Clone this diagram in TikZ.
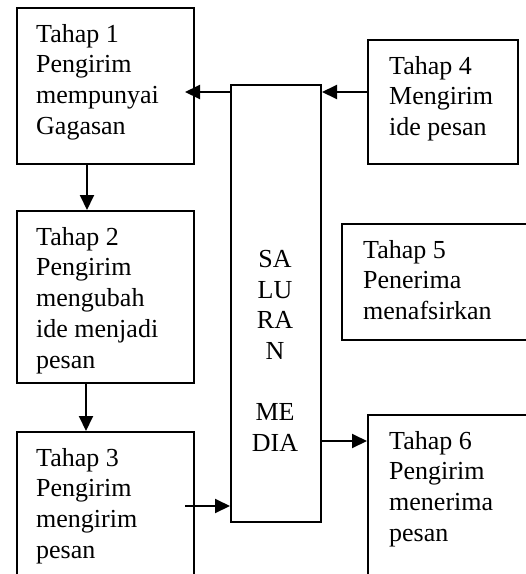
\documentclass[tikz,border=0pt]{standalone}
\usepackage{fontspec}
\setmainfont{Liberation Serif}
\usetikzlibrary{arrows.meta}

\begin{document}
\begin{tikzpicture}[x=1pt,y=-1pt]
\tikzstyle{every node}+=[inner sep=0pt]
\tikzstyle{box}=[draw, black, line width=2pt, anchor=north west]
\tikzstyle{txt}=[anchor=north west, align=left, font=\fontsize{26}{30.7}\selectfont]
\tikzstyle{arr}=[black, line width=2pt, -{Triangle[length=15pt,width=14pt]}]
\useasboundingbox (0,0) rectangle (526,574);
\clip (0,0) rectangle (526,574);
% boxes
\node [box, minimum width=177pt, minimum height=156pt] (b1) at (16,7) {};
\node [box, minimum width=177pt, minimum height=172pt] (b2) at (16,210) {};
\node [box, minimum width=177pt, minimum height=200pt] (b3) at (16,431) {};
\node [box, minimum width=150pt, minimum height=124pt] (b4) at (367,39) {};
\node [box, minimum width=220pt, minimum height=116pt] (b5) at (341,223) {};
\node [box, minimum width=200pt, minimum height=200pt] (b6) at (367,414) {};
\node [box, minimum width=90pt, minimum height=437pt] (media) at (230,84) {};
% texts
\node [txt] (t1) at ([shift={(20,17)}]b1.north west) {Tahap 1\\Pengirim\\mempunyai\\Gagasan};
\node [txt] (t2) at ([shift={(20,17)}]b2.north west) {Tahap 2\\Pengirim\\mengubah\\ide menjadi\\pesan};
\node [txt] (t3) at ([shift={(20,17)}]b3.north west) {Tahap 3\\Pengirim\\mengirim\\pesan};
\node [txt] (t4) at ([shift={(22,17)}]b4.north west) {Tahap 4\\Mengirim\\ide pesan};
\node [txt] (t5) at ([shift={(22,17)}]b5.north west) {Tahap 5\\Penerima\\menafsirkan};
\node [txt] (t6) at ([shift={(22,17)}]b6.north west) {Tahap 6\\Pengirim\\menerima\\pesan};
\node [txt, align=center, anchor=north] (tm) at (275,250) {SA\\LU\\RA\\N\\{}\\ME\\DIA};
% arrows
\draw [arr, shorten >=-10pt] (media.west |- 0,92) -- (b1.east |- 0,92);
\draw [arr] (b4.west |- 0,92) -- (media.east |- 0,92);
\draw [arr] (b1.south -| 87,0) -- (b2.north -| 87,0);
\draw [arr] (b2.south -| 86,0) -- (b3.north -| 86,0);
\draw [arr, shorten <=-10pt] (b3.east |- 0,506) -- (media.west |- 0,506);
\draw [arr] (media.east |- 0,441) -- (b6.west |- 0,441);
\end{tikzpicture}
\end{document}
